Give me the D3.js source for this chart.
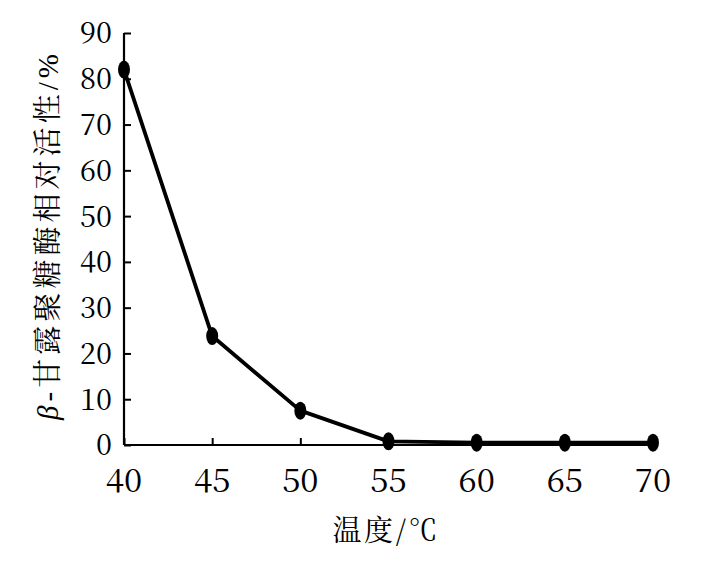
<!DOCTYPE html>
<html><head><meta charset="utf-8">
<script src="https://cdn.jsdelivr.net/npm/d3@7"></script>
<style>body{margin:0;background:#fff}</style>
</head><body>
<svg id="c" width="707" height="571"></svg>
<script>
const temps = [40, 45, 50, 55, 60, 65, 70];
const activity = [82.0, 23.8, 7.5, 0.8, 0.5, 0.5, 0.5];
const yTicks = [0, 10, 20, 30, 40, 50, 60, 70, 80, 90];
const xTicks = [40, 45, 50, 55, 60, 65, 70];
const xTitle = "温度/℃";

const SERIF = '"Liberation Serif", "Times New Roman", serif';
const NUM = '"Noto Serif CJK SC", "Liberation Serif", serif';
const CJK = '"Noto Serif CJK SC", "Noto Sans CJK SC", serif';

const svg = d3.select("#c");
const m = {l:124, r:54, t:33, b:126};
const W = 707, H = 571;
const x = d3.scaleLinear().domain([40,70]).range([m.l, W-m.r]);
const y = d3.scaleLinear().domain([0,90]).range([H-m.b, m.t]);

// axes
const ya = svg.append("g").attr("transform",`translate(${m.l},0)`)
  .call(d3.axisRight(y).tickValues(yTicks).tickSize(7).tickFormat(""));
ya.select(".domain").attr("stroke","#000").attr("stroke-width",2.2).attr("d",`M0,${y(0)}V${y(90)}`);
ya.selectAll(".tick line").attr("stroke","#000").attr("stroke-width",2);

const xa = svg.append("g").attr("transform",`translate(0,${H-m.b})`)
  .call(d3.axisTop(x).tickValues(xTicks).tickSize(7).tickFormat(""));
xa.select(".domain").attr("stroke","#000").attr("stroke-width",2.2).attr("d",`M${x(40)},0H${x(70)}`);
xa.selectAll(".tick line").attr("stroke","#000").attr("stroke-width",2);

// tick labels
svg.append("g").selectAll("text").data(yTicks).join("text")
  .attr("x", 112).attr("y", d=>y(d)).attr("dy","0.36em")
  .attr("text-anchor","end")
  .attr("style", `font-family:${NUM};font-size:29px`)
  .text(d=>String(d));
svg.append("g").selectAll("text").data(xTicks).join("text")
  .attr("x", d=>x(d)).attr("y", 492)
  .attr("text-anchor","middle")
  .attr("style", `font-family:${NUM};font-size:33px`)
  .text(d=>String(d));

// line
const data = temps.map((t,i)=>({t, v:activity[i]}));
svg.append("path").datum(data)
  .attr("fill","none").attr("stroke","#000").attr("stroke-width",3.8)
  .attr("stroke-linejoin","round")
  .attr("d", d3.line().x(d=>x(d.t)).y(d=>y(d.v)));
svg.append("g").selectAll("ellipse").data(data).join("ellipse")
  .attr("cx", d=>x(d.t)).attr("cy", d=>y(d.v))
  .attr("rx", 6).attr("ry", 9).attr("fill","#000");

// titles
const yt = svg.append("text")
  .attr("transform","translate(48,237) rotate(-90)")
  .attr("text-anchor","middle").attr("dy","0.36em")
  .style("font-family", CJK, "important").style("font-size","29px")
  .attr("textLength",366).attr("lengthAdjust","spacing");
yt.append("tspan").style("font-family", SERIF, "important").style("font-style","italic").text("β");
yt.append("tspan").style("font-family", SERIF, "important").text("-");
yt.append("tspan").text("甘露聚糖酶相对活性");
yt.append("tspan").style("font-family", SERIF, "important").text("/%");

svg.append("text").attr("x",385).attr("y",531).attr("dy","0.36em")
  .attr("text-anchor","middle")
  .style("font-family", CJK, "important").style("font-size","29px")
  .attr("textLength",105).attr("lengthAdjust","spacing")
  .text(xTitle);
</script>
</body></html>
